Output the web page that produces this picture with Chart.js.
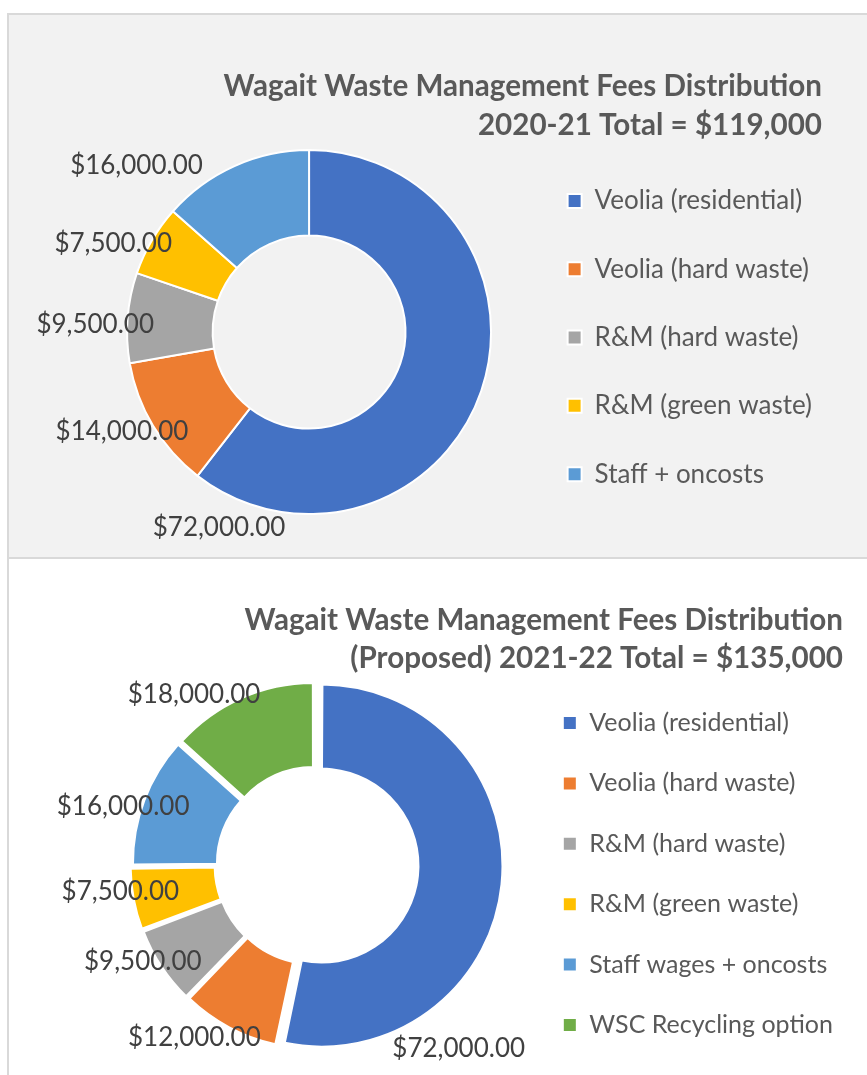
<!DOCTYPE html>
<html>
<head>
<meta charset="utf-8">
<script src="https://cdn.jsdelivr.net/npm/chart.js@4.4.1/dist/chart.umd.min.js"></script>
<style>
  html, body { margin: 0; padding: 0; background: #ffffff; }
  body { width: 867px; height: 1075px; position: relative; overflow: hidden; }
  #panel-top {
    position: absolute; left: 7px; top: 13px; width: 880px; height: 546px;
    box-sizing: border-box; background: #f2f2f2;
    border-left: 2px solid #d9d9d9; border-top: 2px solid #d9d9d9; border-bottom: 2px solid #d9d9d9;
  }
  #panel-bottom {
    position: absolute; left: 7px; top: 559px; width: 880px; height: 520px;
    box-sizing: border-box; border-left: 2px solid #d9d9d9;
  }
  canvas { position: absolute; left: 0; top: 0; }
</style>
</head>
<body>
<div id="panel-top"><canvas id="chart-2021" width="858" height="542"></canvas></div>
<div id="panel-bottom"><canvas id="chart-2122" width="858" height="516"></canvas></div>
<script>
// --- data ---
var titleTop = ['Wagait Waste Management Fees Distribution', '2020-21 Total = $119,000'];
var itemsTop = ['Veolia (residential)', 'Veolia (hard waste)', 'R&M (hard waste)', 'R&M (green waste)', 'Staff + oncosts'];
var feesTop = [72000, 14000, 9500, 7500, 16000];

var titleBottom = ['Wagait Waste Management Fees Distribution', '(Proposed) 2021-22 Total = $135,000'];
var itemsBottom = ['Veolia (residential)', 'Veolia (hard waste)', 'R&M (hard waste)', 'R&M (green waste)', 'Staff wages + oncosts', 'WSC Recycling option'];
var feesBottom = [72000, 12000, 9500, 7500, 16000, 18000];

var palette = ['#4472C4', '#ED7D31', '#A5A5A5', '#FFC000', '#5B9BD5', '#70AD47'];

// where each value label sits: [fraction along the slice, px beyond the outer edge]
var spotsTop = [[0.94, 33], [0.57, 30], [0.41, 32], [0.24, 33], [0.05, 58]];
var spotsBottom = [[0.74, 58], [0.72, 36], [0.66, 23], [0.64, 22], [0.41, 26], [0.26, 34]];

Chart.defaults.font.family = 'Lato';
Chart.defaults.animation = false;

function money(v) {
    var s = Math.round(v).toString().replace(/\B(?=(\d{3})+(?!\d))/g, ',');
    return '$' + s + '.00';
}

var sliceLabels = {
    id: 'sliceLabels',
    afterDatasetsDraw: function(chart, args, opts) {
        var ctx = chart.ctx;
        var meta = chart.getDatasetMeta(0);
        var values = chart.data.datasets[0].data;
        ctx.save();
        ctx.font = '26px Lato';
        ctx.fillStyle = '#404040';
        ctx.textAlign = 'center';
        ctx.textBaseline = 'middle';
        meta.data.forEach(function(arc, i) {
            var p = arc.getProps(['x', 'y', 'startAngle', 'endAngle', 'outerRadius'], true);
            var spot = opts.spots[i];
            var a = p.startAngle + spot[0] * (p.endAngle - p.startAngle);
            var r = p.outerRadius + spot[1];
            ctx.fillText(money(values[i]), p.x + Math.cos(a) * r, p.y + Math.sin(a) * r);
        });
        ctx.restore();
    }
};

function makeChart(id, labels, values, title, spots, look) {
    return new Chart(document.getElementById(id), {
        type: 'doughnut',
        data: {
            labels: labels,
            datasets: [{
                data: values,
                backgroundColor: palette.slice(0, values.length),
                borderColor: '#ffffff',
                borderWidth: 2,
                offset: look.offset
            }]
        },
        options: {
            responsive: false,
            devicePixelRatio: 1,
            radius: look.radius,
            cutout: look.cutout,
            layout: { padding: look.padding },
            events: [],
            plugins: {
                tooltip: { enabled: false },
                title: {
                    display: true,
                    text: title,
                    align: 'end',
                    color: '#595959',
                    font: { size: 29.6, weight: 'bold', lineHeight: look.titleLine },
                    // negative bottom lets the ring ride up beside the title
                    padding: { top: look.titleTop, bottom: look.titleBottom }
                },
                legend: {
                    position: 'right',
                    align: 'center',
                    fullSize: false,
                    title: { display: true, text: '', font: { size: look.nudge, lineHeight: 1 }, padding: 1 },
                    labels: {
                        color: '#595959',
                        font: { size: look.legendSize },
                        boxWidth: 14,
                        boxHeight: 14,
                        padding: look.itemGap
                    }
                },
                sliceLabels: { spots: spots }
            }
        },
        plugins: [sliceLabels]
    });
}

makeChart('chart-2021', itemsTop, feesTop, titleTop, spotsTop, {
    radius: 182, cutout: '53%', offset: 0,
    padding: { left: 83.8, right: 45, top: 0, bottom: 0 },
    titleTop: 52, titleBottom: -38, titleLine: 1.32, legendSize: 26, itemGap: 42.3, nudge: 9
});

makeChart('chart-2122', itemsBottom, feesBottom, titleBottom, spotsBottom, {
    radius: 175, cutout: '52%', offset: 24,
    padding: { left: 94.6, right: 24, top: 0, bottom: 0 },
    titleTop: 42, titleBottom: -23, titleLine: 1.3, legendSize: 25, itemGap: 35.4, nudge: 16
});
</script>
</body>
</html>
